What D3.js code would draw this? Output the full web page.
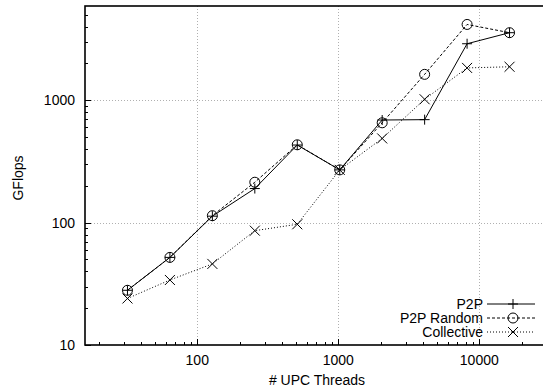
<!DOCTYPE html>
<html>
<head>
<meta charset="utf-8">
<script src="https://cdn.jsdelivr.net/npm/d3@7"></script>
<style>
  html, body { margin: 0; padding: 0; background: #fff; }
  svg { display: block; font-family: "Liberation Sans", Arial, sans-serif; }
</style>
</head>
<body>
<svg id="chart" width="543" height="390"></svg>
<script>
// Thread counts (x) and measured GFlops per method
const threads = [32, 64, 128, 256, 512, 1024, 2048, 4096, 8192, 16384];
const p2p = [28, 52, 113, 190, 431, 270, 690, 695, 2900, 3570];
const p2pRandom = [28, 52, 114, 214, 433, 270, 655, 1630, 4170, 3570];
const collective = [24, 34, 46, 86, 97, 270, 488, 1020, 1840, 1880];

const seriesNames = ["P2P", "P2P Random", "Collective"];
const xTickValues = [100, 1000, 10000];
const yTickValues = [10, 100, 1000];

const svg = d3.select("#chart");
const plotLeft = 85, plotTop = 6, plotBottom = 345, plotRight = 552;

const x = d3.scaleLog().domain([16, 32768]).range([plotLeft, plotRight]);
const y = d3.scaleLog().domain([10, 5900]).range([plotBottom, plotTop]);

// dotted grid at major ticks
const grid = svg.append("g").attr("stroke", "#b0b0b0").attr("stroke-width", 1)
  .attr("stroke-dasharray", "1,2");
xTickValues.forEach(v => grid.append("line")
  .attr("x1", Math.round(x(v)) + 0.5).attr("x2", Math.round(x(v)) + 0.5)
  .attr("y1", plotTop).attr("y2", plotBottom));
yTickValues.slice(1).forEach(v => grid.append("line")
  .attr("x1", plotLeft).attr("x2", plotRight)
  .attr("y1", Math.round(y(v)) + 0.5).attr("y2", Math.round(y(v)) + 0.5));

// minor ticks (inward)
const xMinor = [];
for (let d = 10; d <= 10000; d *= 10) for (let k = 2; k <= 9; k++) {
  const v = d * k; if (v >= 16 && v <= 32768) xMinor.push(v);
}
const yMinor = [];
for (let d = 10; d <= 1000; d *= 10) for (let k = 2; k <= 9; k++) {
  const v = d * k; if (v <= 5900) yMinor.push(v);
}
const ticks = svg.append("g").attr("stroke", "#000").attr("stroke-width", 1);
xMinor.forEach(v => ticks.append("line")
  .attr("x1", Math.round(x(v)) + 0.5).attr("x2", Math.round(x(v)) + 0.5)
  .attr("y1", plotBottom).attr("y2", plotBottom - 3));
yMinor.forEach(v => ticks.append("line")
  .attr("x1", plotLeft).attr("x2", plotLeft + 3)
  .attr("y1", Math.round(y(v)) + 0.5).attr("y2", Math.round(y(v)) + 0.5));
xTickValues.forEach(v => ticks.append("line")
  .attr("x1", Math.round(x(v)) + 0.5).attr("x2", Math.round(x(v)) + 0.5)
  .attr("y1", plotBottom).attr("y2", plotBottom - 6));
yTickValues.forEach(v => ticks.append("line")
  .attr("x1", plotLeft).attr("x2", plotLeft + 6)
  .attr("y1", Math.round(y(v)) + 0.5).attr("y2", Math.round(y(v)) + 0.5));

// frame
svg.append("rect").attr("x", plotLeft).attr("y", plotTop)
  .attr("width", plotRight - plotLeft).attr("height", plotBottom - plotTop)
  .attr("fill", "none").attr("stroke", "#000").attr("stroke-width", 1.6);

// tick labels
svg.append("g").selectAll("text").data(xTickValues).join("text")
  .attr("x", d => x(d)).attr("y", 365)
  .attr("text-anchor", "middle").attr("font-size", 14).text(d => d);
svg.append("g").selectAll("text").data(yTickValues).join("text")
  .attr("x", 75).attr("y", d => y(d) + 5)
  .attr("text-anchor", "end").attr("font-size", 14).text(d => d);

// axis titles
svg.append("text").attr("x", 317).attr("y", 385).attr("text-anchor", "middle")
  .attr("font-size", 14).text("# UPC Threads");
svg.append("text").attr("transform", "translate(23,178) rotate(-90)")
  .attr("text-anchor", "middle").attr("font-size", 14).text("GFlops");

// series
const series = [
  { name: seriesNames[0], values: p2p, dash: null, marker: "plus" },
  { name: seriesNames[1], values: p2pRandom, dash: "3,2", marker: "circle" },
  { name: seriesNames[2], values: collective, dash: "1,2", marker: "cross" }
];

function drawMarker(g, type, cx, cy) {
  const s = 5;
  if (type === "plus") {
    g.append("path").attr("d", `M${cx - s},${cy}H${cx + s}M${cx},${cy - s}V${cy + s}`)
      .attr("stroke", "#000").attr("stroke-width", 1).attr("fill", "none");
  } else if (type === "circle") {
    g.append("circle").attr("cx", cx).attr("cy", cy).attr("r", 5)
      .attr("stroke", "#000").attr("stroke-width", 1).attr("fill", "none");
  } else {
    const c = 5;
    g.append("path").attr("d", `M${cx - c},${cy - c}L${cx + c},${cy + c}M${cx - c},${cy + c}L${cx + c},${cy - c}`)
      .attr("stroke", "#000").attr("stroke-width", 1).attr("fill", "none");
  }
}

const line = d3.line().x((d, i) => x(threads[i])).y(d => y(d));
const plot = svg.append("g");
series.slice().reverse().forEach(s => {
  plot.append("path").attr("d", line(s.values))
    .attr("fill", "none").attr("stroke", "#000").attr("stroke-width", 1)
    .attr("stroke-dasharray", s.dash);
  s.values.forEach((v, i) => drawMarker(plot, s.marker, x(threads[i]), y(v)));
});

// legend
const legend = svg.append("g");
series.forEach((s, i) => {
  const ly = 304 + i * 14;
  legend.append("text").attr("x", 483).attr("y", ly + 5)
    .attr("text-anchor", "end").attr("font-size", 14).text(s.name);
  legend.append("line").attr("x1", 487).attr("x2", 535).attr("y1", ly).attr("y2", ly)
    .attr("stroke", "#000").attr("stroke-width", 1).attr("stroke-dasharray", s.dash);
  drawMarker(legend, s.marker, 513, ly);
});
</script>
</body>
</html>
